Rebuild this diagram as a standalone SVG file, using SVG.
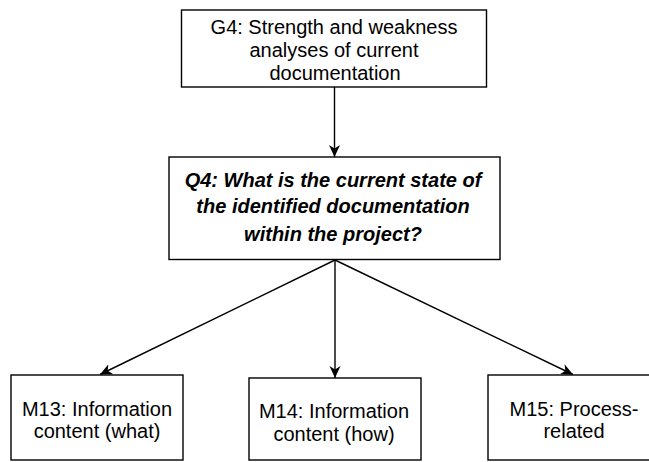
<svg xmlns="http://www.w3.org/2000/svg" width="649" height="462" viewBox="0 0 649 462">
  <defs>
    <marker id="arrow" markerUnits="userSpaceOnUse" markerWidth="13" markerHeight="12" viewBox="0 0 13 12" refX="12" refY="6" orient="auto">
      <path d="M0,0.5 L12,6 L0,11.5 L3.5,6 Z" fill="#000"/>
    </marker>
    <style>
      .box { fill: #fff; stroke: #000; stroke-width: 1.4; }
      .lbl { font-family: "Liberation Sans", Arial, sans-serif; font-size: 20px; fill: #000; text-anchor: middle; }
      .q { font-weight: bold; font-style: italic; }
      .edge { fill: none; stroke: #000; stroke-width: 1.4; marker-end: url(#arrow); }
    </style>
  </defs>
  <rect width="649" height="462" fill="#fff"/>

  <g id="connectors">
    <line class="edge" x1="334.5" y1="87" x2="334.5" y2="157"/>
    <line class="edge" x1="335" y1="260" x2="335" y2="378"/>
    <line class="edge" x1="335" y1="260" x2="100" y2="374.5"/>
    <line class="edge" x1="335" y1="260" x2="573" y2="374.5"/>
  </g>

  <g id="g4">
    <rect class="box" x="181.5" y="10" width="305" height="77"/>
    <text class="lbl" x="334" y="33.5">G4: Strength and weakness</text>
    <text class="lbl" x="334" y="57">analyses of current</text>
    <text class="lbl" x="335" y="80">documentation</text>
  </g>

  <g id="q4">
    <rect class="box" x="169" y="157" width="331" height="102.5"/>
    <text class="lbl q" x="333" y="187">Q4: What is the current state of</text>
    <text class="lbl q" x="333" y="213">the identified documentation</text>
    <text class="lbl q" x="333" y="241">within the project?</text>
  </g>

  <g id="m13">
    <rect class="box" x="11" y="375" width="172" height="85"/>
    <text class="lbl" x="97" y="415.5">M13: Information</text>
    <text class="lbl" x="97" y="438">content (what)</text>
  </g>

  <g id="m14">
    <rect class="box" x="249" y="378" width="172" height="82"/>
    <text class="lbl" x="334" y="418">M14: Information</text>
    <text class="lbl" x="334" y="441">content (how)</text>
  </g>

  <g id="m15">
    <rect class="box" x="488" y="375" width="172" height="85"/>
    <text class="lbl" x="574" y="416">M15: Process-</text>
    <text class="lbl" x="574" y="438">related</text>
  </g>
</svg>
